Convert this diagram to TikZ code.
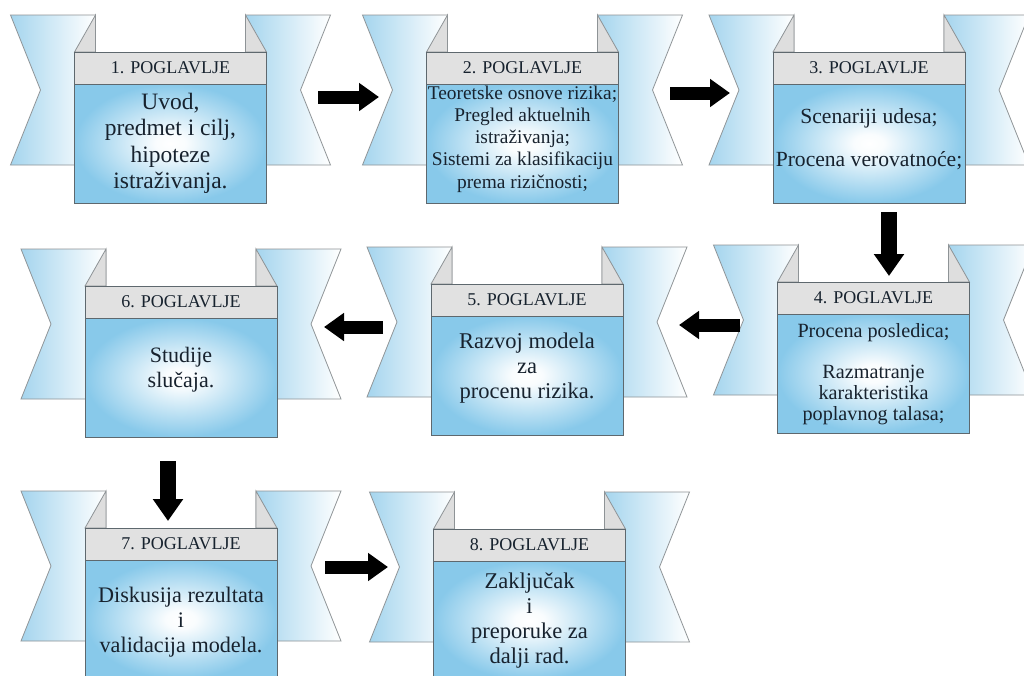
\documentclass[tikz,border=0pt]{standalone}
\usepackage{fontspec}
\setmainfont{Liberation Serif}
\usetikzlibrary{arrows.meta}

\definecolor{ribbonblue}{HTML}{A5D5EE}
\definecolor{bodyblue}{HTML}{88C9EA}
\definecolor{headgray}{HTML}{E1E1E1}
\definecolor{foldgray}{HTML}{DEDEDE}
\definecolor{ribbonline}{HTML}{8E9396}
\definecolor{boxline}{HTML}{5E686E}
\definecolor{inkcol}{HTML}{17222E}

% soft glow for the chapter cards: white centre, blue rim
\pgfdeclareradialshading{bodyglow}{\pgfpoint{0bp}{0bp}}{%
  color(0bp)=(white); color(4bp)=(white!95!bodyblue);
  color(25bp)=(bodyblue); color(50bp)=(bodyblue)}

\tikzset{
  ribbon/.style={draw=ribbonline, line width=0.8pt, left color=ribbonblue, right color=white},
  foldtri/.style={draw=ribbonline, fill=foldgray, line width=0.8pt},
  headbox/.style={draw=boxline, fill=headgray, line width=0.8pt,
    minimum width=192pt, minimum height=32pt, inner sep=0pt,
    text=inkcol, font=\fontsize{18}{20}\selectfont},
  bodybox/.style={draw=boxline, shading=bodyglow, line width=0.8pt,
    minimum width=192pt, minimum height=119pt, inner sep=0pt},
  bodytext/.style={align=center, text=inkcol, inner sep=0pt},
  hbigarrow/.style={line width=13pt, draw=black, -{Triangle[length=20pt,width=27pt]}},
  vbigarrow/.style={line width=16pt, draw=black, -{Triangle[length=22pt,width=29pt]}}
}

% one chapter card with its ribbon wings
% #1 number, #2 centre x, #3 ribbon top y, #4 text shift, #5 font size, #6 leading, #7 text
\newcommand{\chapterunit}[7]{%
  \begin{scope}[shift={(#2,#3)}]
    \path[ribbon] (-160,0) -- (-75,0) -- (-75,150) -- (-160,150) -- (-130,75) -- cycle;
    \path[ribbon] (75,0) -- (160,0) -- (130,75) -- (160,150) -- (75,150) -- cycle;
    \path[foldtri] (-75,0) -- (-96,37) -- (-75,37) -- cycle;
    \path[foldtri] (75,0) -- (96,37) -- (75,37) -- cycle;
    \node[headbox] (h#1) at (0,53) {#1. POGLAVLJE};
    \node[bodybox] (b#1) at (0,128.5) {};
    \node[bodytext, font=\fontsize{#5}{#6}\selectfont] (t#1) at (0,{128.5+#4}) {#7};
  \end{scope}}

\begin{document}
\begin{tikzpicture}[x=1pt, y=-1pt]
  \useasboundingbox[fill=white] (0,0) rectangle (1024,675);

  \chapterunit{1}{170.5}{15}{0}{23.5}{26.5}{Uvod,\\ predmet i cilj,\\ hipoteze\\ istraživanja.}
  \chapterunit{2}{522.5}{15}{-4.5}{19.4}{22.2}{Teoretske osnove rizika;\\ Pregled aktuelnih\\ istraživanja;\\ Sistemi za klasifikaciju\\ prema rizičnosti;}
  \chapterunit{3}{869}{15}{-4}{21.6}{22}{Scenariji udesa;\\[21pt] Procena verovatnoće;}
  \chapterunit{4}{873.5}{245}{1}{20.2}{21}{Procena posledica;\\[20pt] Razmatranje\\ karakteristika\\ poplavnog talasa;}
  \chapterunit{5}{527}{247}{-7.5}{22.5}{25}{Razvoj modela\\ za\\ procenu rizika.}
  \chapterunit{6}{181}{249}{-8}{22}{25}{Studije\\ slučaja.}
  \chapterunit{7}{181}{491}{2.5}{22.2}{25}{Diskusija rezultata\\ i\\ validacija modela.}
  \chapterunit{8}{529.5}{492}{0}{22.5}{25}{Zaključak\\ i\\ preporuke za\\ dalji rad.}

  % ends of the flow arrows between the cards
  \coordinate (a12s) at (318,97);  \coordinate (a12e) at (379,97);
  \coordinate (a23s) at (670,93);  \coordinate (a23e) at (730,93);
  \coordinate (a34s) at (889,212); \coordinate (a34e) at (889,276);
  \coordinate (a45s) at (740,325); \coordinate (a45e) at (679,325);
  \coordinate (a56s) at (383,327); \coordinate (a56e) at (324,327);
  \coordinate (a67s) at (168,461); \coordinate (a67e) at (168,521);
  \coordinate (a78s) at (325,567); \coordinate (a78e) at (388,567);

  \draw[hbigarrow] (a12s) -- (a12e);
  \draw[hbigarrow] (a23s) -- (a23e);
  \draw[vbigarrow] (a34s) -- (a34e);
  \draw[hbigarrow] (a45s) -- (a45e);
  \draw[hbigarrow] (a56s) -- (a56e);
  \draw[vbigarrow] (a67s) -- (a67e);
  \draw[hbigarrow] (a78s) -- (a78e);
\end{tikzpicture}
\end{document}
